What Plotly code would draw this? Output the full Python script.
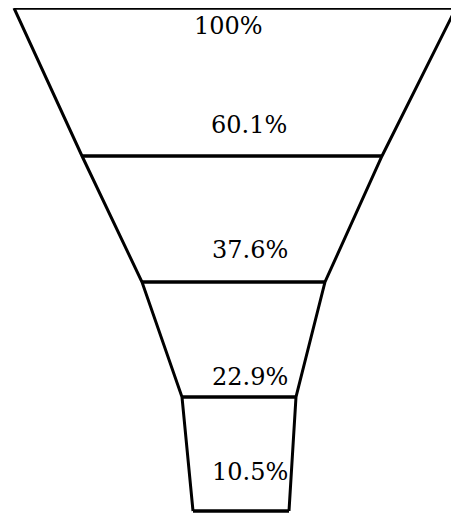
import plotly.graph_objects as go

# ---- data ----
stage_values = [100, 60.1, 37.6, 22.9, 10.5]          # percent retained
stage_labels = ["100%", "60.1%", "37.6%", "22.9%", "10.5%"]
# funnel outline (drawing units), one entry per boundary line
boundary_depth = [8, 156, 282, 397, 511]
boundary_left = [14, 82, 142, 182, 193]
boundary_right = [456, 382, 325, 296, 289]

# label placement (layout, not data)
label_x = [228, 289, 290, 290, 290]
label_y = [26, 125, 250, 377, 472]
label_anchor = ["center", "right", "right", "right", "right"]

# the page body has an 8px margin; offset the axis ranges so drawing units match page pixels
PAGE_OFFSET = 8
W, H = 459, 515

fig = go.Figure()

for xs in (boundary_left, boundary_right):
    fig.add_trace(go.Scatter(x=xs, y=boundary_depth, mode="lines",
                             line=dict(color="#000", width=3), hoverinfo="skip",
                             showlegend=False))
hx, hy = [], []
for d, l, r in zip(boundary_depth, boundary_left, boundary_right):
    hx += [l, r, None]
    hy += [d, d, None]
fig.add_trace(go.Scatter(x=hx, y=hy, mode="lines",
                         line=dict(color="#000", width=3.4), hoverinfo="skip",
                         showlegend=False))

for txt, x, y, a in zip(stage_labels, label_x, label_y, label_anchor):
    fig.add_annotation(x=x, y=y, text=txt, showarrow=False, xanchor=a,
                       yanchor="middle",
                       font=dict(family="DejaVu Serif", size=24, color="#000"))

fig.update_layout(
    width=W, height=H,
    margin=dict(l=0, r=0, t=0, b=0),
    paper_bgcolor="white", plot_bgcolor="white",
    xaxis=dict(range=[PAGE_OFFSET, W + PAGE_OFFSET], visible=False, fixedrange=True),
    yaxis=dict(range=[H + PAGE_OFFSET, PAGE_OFFSET], visible=False, fixedrange=True),
)

fig.write_html("out.html")
